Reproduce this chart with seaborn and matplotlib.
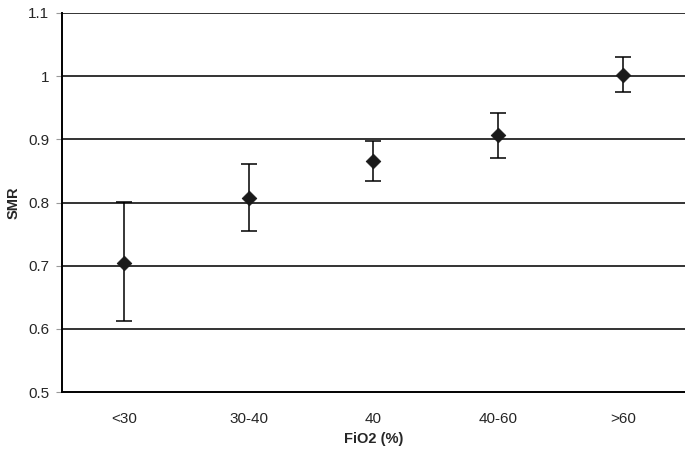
import matplotlib
matplotlib.use("Agg")
import matplotlib.pyplot as plt
import seaborn as sns
import pandas as pd

# datos
categorias = ['<30', '30-40', '40', '40-60', '>60']
smr = [0.704, 0.807, 0.866, 0.907, 1.002]
ic_inf = [0.612, 0.755, 0.834, 0.870, 0.975]
ic_sup = [0.801, 0.861, 0.897, 0.942, 1.031]

df = pd.DataFrame({'FiO2': categorias, 'SMR': smr, 'lo': ic_inf, 'hi': ic_sup})

sns.set_style("white")
plt.rcParams['font.family'] = ['Liberation Sans', 'DejaVu Sans']

fig = plt.figure(figsize=(6.85, 4.57), dpi=100)
ax = fig.add_axes([0.0905, 0.142, 0.9095, 0.8296])

# lineas horizontales
for y in [0.6, 0.7, 0.8, 0.9, 1.0, 1.1]:
    ax.axhline(y, color='#333333', lw=1.4, zorder=1)

ax.errorbar(df['FiO2'], df['SMR'],
            yerr=[df['SMR'] - df['lo'], df['hi'] - df['SMR']],
            fmt='none', ecolor='black', elinewidth=1.1, capsize=6, capthick=1.1, zorder=2)
sns.scatterplot(data=df, x='FiO2', y='SMR', marker='D', s=55, color='#1a1a1a',
                edgecolor='#1a1a1a', ax=ax, zorder=3)

ax.set_xlim(-0.5, 4.5)
ax.set_ylim(0.5, 1.1)
ax.set_yticks([0.5, 0.6, 0.7, 0.8, 0.9, 1.0, 1.1])
ax.set_yticklabels(['0.5', '0.6', '0.7', '0.8', '0.9', '1', '1.1'])
ax.set_xticks(range(5))
ax.set_xticklabels(categorias)
ax.set_xticks([0.5, 1.5, 2.5, 3.5], minor=True)
ax.tick_params(axis='x', which='major', length=0, pad=14, labelsize=11)
ax.tick_params(axis='x', which='minor', length=4, color='#999999', direction='out')
ax.tick_params(axis='y', length=4, color='#999999', direction='out', pad=5, labelsize=11, left=True)

for s in ['top', 'right']:
    ax.spines[s].set_visible(False)
for s in ['left', 'bottom']:
    ax.spines[s].set_color('black')
    ax.spines[s].set_linewidth(1.4)

ax.set_xlabel('FiO2 (%)', fontweight='bold', fontsize=10.5)
ax.set_ylabel('SMR', fontweight='bold', fontsize=10.5)
ax.xaxis.set_label_coords(0.5, -0.105)
ax.yaxis.set_label_coords(-0.066, 0.5)

fig.savefig('out.png', dpi=100)
